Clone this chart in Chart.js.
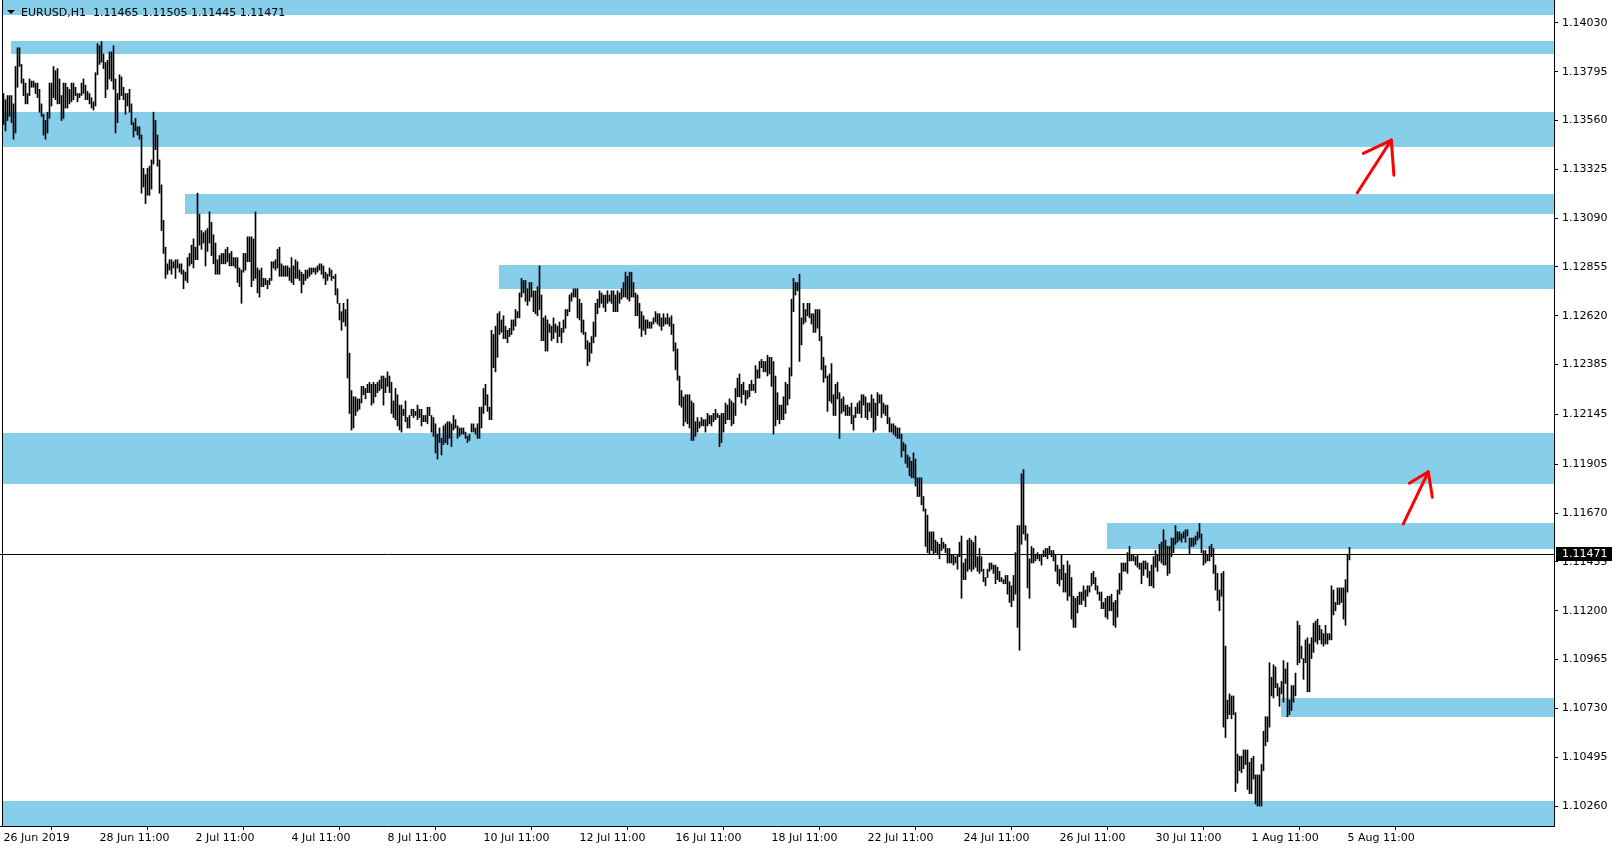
<!DOCTYPE html>
<html>
<head>
<meta charset="utf-8">
<title>EURUSD,H1</title>
<script src="https://cdn.jsdelivr.net/npm/chart.js@4.4.1/dist/chart.umd.min.js"></script>
<style>
  html, body { margin: 0; padding: 0; background: #fff; }
  #wrap { width: 1619px; height: 850px; }
</style>
</head>
<body>
<div id="wrap"><canvas id="chart" width="1619" height="850"></canvas></div>
<script>
// EURUSD H1, one entry per hourly bar, 26 Jun 2019 11:00 -> 5 Aug 2019 12:00
const highs = [
  1.1369,1.1366,1.1368,1.1368,1.1368,1.1364,1.1382,1.1391,1.1391,1.1383,1.1376,1.1374,1.1369,1.1376,1.1375,1.1375,1.1374,1.1374,1.1371,1.1364,1.1359,1.1356,1.1360,1.1374,
  1.1374,1.1382,1.1380,1.1381,1.1376,1.1368,1.1374,1.1374,1.1372,1.1371,1.1374,1.1374,1.1372,1.1369,1.1369,1.1374,1.1376,1.1373,1.1370,1.1369,1.1367,1.1365,1.1379,1.1393,
  1.1392,1.1394,1.1388,1.1384,1.1385,1.1389,1.1389,1.1392,1.1376,1.1369,1.1378,1.1377,1.1372,1.1369,1.1369,1.1371,1.1364,1.1355,1.1357,1.1353,1.1353,1.1349,1.1333,1.1330,
  1.1333,1.1334,1.1337,1.1360,1.1356,1.1349,1.1337,1.1325,1.1308,1.1295,1.1287,1.1289,1.1289,1.1288,1.1289,1.1289,1.1287,1.1287,1.1284,1.1283,1.1290,1.1292,1.1296,1.1299,
  1.1295,1.1321,1.1311,1.1303,1.1302,1.1303,1.1304,1.1312,1.1307,1.1301,1.1297,1.1289,1.1291,1.1292,1.1292,1.1294,1.1295,1.1292,1.1293,1.1290,1.1290,1.1290,1.1285,1.1284,
  1.1292,1.1292,1.1300,1.1300,1.1300,1.1299,1.1312,1.1285,1.1284,1.1285,1.1280,1.1280,1.1279,1.1280,1.1288,1.1288,1.1289,1.1294,1.1295,1.1287,1.1286,1.1286,1.1286,1.1285,
  1.1290,1.1286,1.1289,1.1288,1.1284,1.1283,1.1282,1.1284,1.1284,1.1285,1.1285,1.1285,1.1285,1.1286,1.1287,1.1287,1.1286,1.1283,1.1282,1.1285,1.1284,1.1281,1.1282,1.1275,
  1.1268,1.1264,1.1268,1.1265,1.1270,1.1244,1.1226,1.1223,1.1223,1.1222,1.1222,1.1228,1.1228,1.1227,1.1229,1.1230,1.1229,1.1230,1.1229,1.1230,1.1231,1.1233,1.1233,1.1232,
  1.1235,1.1233,1.1230,1.1221,1.1227,1.1224,1.1219,1.1219,1.1217,1.1221,1.1213,1.1214,1.1217,1.1217,1.1216,1.1219,1.1217,1.1217,1.1214,1.1214,1.1218,1.1218,1.1214,1.1213,
  1.1210,1.1205,1.1208,1.1203,1.1209,1.1210,1.1211,1.1211,1.1210,1.1214,1.1212,1.1209,1.1208,1.1208,1.1208,1.1206,1.1204,1.1205,1.1210,1.1210,1.1208,1.1210,1.1218,1.1218,
  1.1227,1.1229,1.1224,1.1218,1.1255,1.1253,1.1257,1.1263,1.1264,1.1260,1.1262,1.1257,1.1255,1.1256,1.1260,1.1260,1.1265,1.1264,1.1273,1.1280,1.1279,1.1279,1.1275,1.1278,
  1.1278,1.1274,1.1274,1.1276,1.1286,1.1272,1.1261,1.1262,1.1260,1.1258,1.1257,1.1261,1.1258,1.1257,1.1259,1.1256,1.1260,1.1265,1.1265,1.1272,1.1273,1.1275,1.1275,1.1275,
  1.1270,1.1268,1.1260,1.1254,1.1250,1.1249,1.1252,1.1259,1.1268,1.1270,1.1274,1.1273,1.1272,1.1272,1.1274,1.1272,1.1274,1.1274,1.1272,1.1274,1.1273,1.1275,1.1278,1.1283,
  1.1281,1.1283,1.1283,1.1278,1.1273,1.1272,1.1268,1.1264,1.1262,1.1260,1.1260,1.1259,1.1259,1.1261,1.1264,1.1263,1.1263,1.1261,1.1263,1.1261,1.1263,1.1261,1.1262,1.1258,
  1.1249,1.1246,1.1233,1.1226,1.1223,1.1224,1.1224,1.1224,1.1221,1.1220,1.1211,1.1213,1.1211,1.1213,1.1212,1.1212,1.1215,1.1214,1.1214,1.1215,1.1217,1.1215,1.1214,1.1215,
  1.1215,1.1220,1.1219,1.1222,1.1221,1.1220,1.1227,1.1232,1.1234,1.1229,1.1230,1.1226,1.1226,1.1229,1.1231,1.1229,1.1238,1.1236,1.1240,1.1241,1.1240,1.1240,1.1243,1.1242,
  1.1242,1.1240,1.1233,1.1225,1.1219,1.1219,1.1223,1.1230,1.1229,1.1237,1.1270,1.1280,1.1278,1.1278,1.1282,1.1261,1.1268,1.1265,1.1268,1.1268,1.1263,1.1263,1.1265,1.1265,
  1.1265,1.1252,1.1242,1.1238,1.1233,1.1234,1.1239,1.1224,1.1229,1.1230,1.1225,1.1222,1.1223,1.1219,1.1219,1.1218,1.1220,1.1214,1.1218,1.1220,1.1221,1.1224,1.1224,1.1223,
  1.1220,1.1220,1.1224,1.1222,1.1220,1.1225,1.1224,1.1224,1.1220,1.1219,1.1219,1.1213,1.1210,1.1210,1.1209,1.1208,1.1208,1.1205,1.1201,1.1200,1.1195,1.1194,1.1192,1.1196,
  1.1193,1.1184,1.1184,1.1184,1.1175,1.1169,1.1166,1.1158,1.1158,1.1158,1.1154,1.1153,1.1152,1.1155,1.1153,1.1152,1.1150,1.1150,1.1147,1.1147,1.1146,1.1147,1.1153,1.1156,
  1.1143,1.1145,1.1154,1.1155,1.1154,1.1153,1.1156,1.1146,1.1150,1.1146,1.1140,1.1136,1.1140,1.1143,1.1143,1.1142,1.1142,1.1141,1.1139,1.1136,1.1135,1.1137,1.1137,1.1134,
  1.1132,1.1137,1.1148,1.1161,1.1161,1.1186,1.1188,1.1161,1.1157,1.1145,1.1151,1.1150,1.1147,1.1148,1.1147,1.1147,1.1149,1.1150,1.1150,1.1151,1.1149,1.1149,1.1147,1.1142,
  1.1140,1.1147,1.1142,1.1138,1.1144,1.1142,1.1136,1.1127,1.1126,1.1127,1.1129,1.1129,1.1132,1.1130,1.1132,1.1132,1.1138,1.1139,1.1136,1.1132,1.1129,1.1129,1.1124,1.1126,
  1.1127,1.1127,1.1128,1.1124,1.1125,1.1130,1.1138,1.1143,1.1143,1.1143,1.1148,1.1151,1.1147,1.1147,1.1146,1.1147,1.1143,1.1143,1.1144,1.1144,1.1143,1.1139,1.1142,1.1146,
  1.1149,1.1147,1.1152,1.1153,1.1159,1.1154,1.1151,1.1151,1.1155,1.1155,1.1161,1.1158,1.1158,1.1157,1.1158,1.1159,1.1159,1.1155,1.1155,1.1155,1.1156,1.1158,1.1162,1.1157,
  1.1149,1.1149,1.1147,1.1151,1.1152,1.1150,1.1142,1.1138,1.1130,1.1138,1.1139,1.1103,1.1077,1.1080,1.1079,1.1079,1.1071,1.1051,1.1050,1.1050,1.1053,1.1053,1.1053,1.1047,
  1.1049,1.1050,1.1041,1.1041,1.1041,1.1046,1.1062,1.1069,1.1069,1.1095,1.1088,1.1094,1.1093,1.1085,1.1083,1.1086,1.1096,1.1092,1.1095,1.1077,1.1084,1.1084,1.1090,1.1115,
  1.1113,1.1103,1.1097,1.1106,1.1107,1.1104,1.1107,1.1114,1.1115,1.1116,1.1113,1.1111,1.1109,1.1113,1.1109,1.1109,1.1132,1.1130,1.1124,1.1131,1.1131,1.1131,1.1131,1.1135,
  1.1147,1.11505
];
const lows = [
  1.1354,1.1351,1.1356,1.1358,1.1355,1.1347,1.1350,1.1372,1.1382,1.1374,1.1368,1.1364,1.1364,1.1368,1.1372,1.1372,1.1369,1.1367,1.1360,1.1358,1.1349,1.1347,1.1350,1.1357,
  1.1363,1.1367,1.1366,1.1364,1.1364,1.1356,1.1357,1.1362,1.1362,1.1364,1.1365,1.1366,1.1368,1.1365,1.1367,1.1368,1.1369,1.1366,1.1366,1.1364,1.1362,1.1361,1.1363,1.1378,
  1.1383,1.1384,1.1381,1.1367,1.1371,1.1376,1.1375,1.1371,1.1350,1.1355,1.1366,1.1368,1.1366,1.1359,1.1363,1.1360,1.1354,1.1348,1.1351,1.1349,1.1347,1.1321,1.1324,1.1316,
  1.1320,1.1320,1.1323,1.1335,1.1342,1.1334,1.1321,1.1303,1.1292,1.1280,1.1282,1.1284,1.1282,1.1285,1.1280,1.1285,1.1283,1.1282,1.1275,1.1279,1.1278,1.1286,1.1287,1.1285,
  1.1289,1.1289,1.1296,1.1294,1.1297,1.1286,1.1293,1.1297,1.1291,1.1287,1.1282,1.1282,1.1282,1.1287,1.1287,1.1287,1.1288,1.1286,1.1286,1.1286,1.1285,1.1278,1.1276,1.1268,
  1.1283,1.1284,1.1288,1.1288,1.1276,1.1279,1.1280,1.1273,1.1271,1.1276,1.1276,1.1277,1.1275,1.1277,1.1279,1.1285,1.1284,1.1285,1.1281,1.1281,1.1281,1.1281,1.1281,1.1279,
  1.1278,1.1277,1.1280,1.1280,1.1279,1.1273,1.1277,1.1279,1.1280,1.1281,1.1282,1.1283,1.1282,1.1283,1.1284,1.1282,1.1280,1.1277,1.1279,1.1281,1.1279,1.1280,1.1272,1.1268,
  1.1260,1.1255,1.1259,1.1257,1.1232,1.1215,1.1207,1.1208,1.1214,1.1216,1.1217,1.1220,1.1224,1.1222,1.1225,1.1225,1.1219,1.1220,1.1223,1.1225,1.1226,1.1227,1.1219,1.1225,
  1.1228,1.1225,1.1215,1.1213,1.1212,1.1209,1.1207,1.1206,1.1214,1.1211,1.1208,1.1208,1.1214,1.1213,1.1214,1.1212,1.1213,1.1209,1.1211,1.1211,1.1210,1.1214,1.1206,1.1204,
  1.1196,1.1193,1.1201,1.1195,1.1200,1.1201,1.1200,1.1203,1.1199,1.1207,1.1208,1.1203,1.1204,1.1205,1.1205,1.1203,1.1201,1.1202,1.1206,1.1206,1.1205,1.1203,1.1203,1.1208,
  1.1215,1.1219,1.1216,1.1212,1.1212,1.1237,1.1235,1.1242,1.1253,1.1254,1.1251,1.1251,1.1249,1.1252,1.1253,1.1255,1.1257,1.1261,1.1261,1.1271,1.1273,1.1269,1.1267,1.1269,
  1.1271,1.1264,1.1263,1.1262,1.1265,1.1250,1.1250,1.1245,1.1245,1.1254,1.1250,1.1251,1.1254,1.1249,1.1252,1.1249,1.1254,1.1256,1.1262,1.1264,1.1269,1.1271,1.1271,1.1261,
  1.1260,1.1254,1.1253,1.1246,1.1238,1.1240,1.1244,1.1249,1.1252,1.1263,1.1266,1.1268,1.1266,1.1264,1.1268,1.1269,1.1268,1.1264,1.1264,1.1264,1.1268,1.1270,1.1271,1.1271,
  1.1270,1.1269,1.1271,1.1271,1.1262,1.1262,1.1256,1.1252,1.1255,1.1253,1.1256,1.1256,1.1256,1.1258,1.1259,1.1258,1.1257,1.1255,1.1257,1.1258,1.1258,1.1257,1.1253,1.1245,
  1.1236,1.1231,1.1219,1.1218,1.1209,1.1211,1.1210,1.1208,1.1202,1.1202,1.1204,1.1206,1.1208,1.1209,1.1209,1.1206,1.1209,1.1210,1.1209,1.1211,1.1212,1.1213,1.1199,1.1201,
  1.1206,1.1210,1.1212,1.1212,1.1209,1.1210,1.1214,1.1223,1.1223,1.1220,1.1224,1.1219,1.1222,1.1223,1.1226,1.1226,1.1225,1.1232,1.1232,1.1237,1.1235,1.1235,1.1233,1.1234,
  1.1228,1.1205,1.1209,1.1212,1.1210,1.1212,1.1212,1.1215,1.1219,1.1222,1.1233,1.1264,1.1272,1.1274,1.1240,1.1248,1.1258,1.1259,1.1262,1.1261,1.1258,1.1254,1.1254,1.1256,
  1.1250,1.1236,1.1230,1.1232,1.1216,1.1221,1.1220,1.1214,1.1214,1.1222,1.1203,1.1215,1.1216,1.1214,1.1214,1.1214,1.1210,1.1207,1.1213,1.1215,1.1215,1.1213,1.1219,1.1213,
  1.1212,1.1216,1.1213,1.1206,1.1207,1.1214,1.1220,1.1213,1.1215,1.1214,1.1210,1.1206,1.1206,1.1205,1.1204,1.1203,1.1203,1.1194,1.1197,1.1191,1.1189,1.1185,1.1184,1.1184,
  1.1180,1.1175,1.1175,1.1171,1.1168,1.1151,1.1148,1.1147,1.1149,1.1147,1.1148,1.1147,1.1145,1.1149,1.1150,1.1148,1.1143,1.1143,1.1143,1.1142,1.1143,1.1140,1.1146,1.1126,
  1.1135,1.1135,1.1139,1.1140,1.1139,1.1140,1.1141,1.1139,1.1138,1.1139,1.1134,1.1132,1.1136,1.1139,1.1140,1.1138,1.1133,1.1135,1.1134,1.1134,1.1133,1.1133,1.1128,1.1124,
  1.1122,1.1125,1.1128,1.1112,1.1101,1.1152,1.1157,1.1154,1.1131,1.1126,1.1143,1.1143,1.1144,1.1145,1.1144,1.1142,1.1146,1.1146,1.1145,1.1147,1.1146,1.1144,1.1139,1.1133,
  1.1132,1.1135,1.1129,1.1129,1.1125,1.1127,1.1116,1.1112,1.1112,1.1119,1.1123,1.1123,1.1125,1.1122,1.1127,1.1129,1.1132,1.1133,1.1130,1.1128,1.1125,1.1121,1.1121,1.1117,
  1.1116,1.1120,1.1120,1.1113,1.1112,1.1117,1.1128,1.1130,1.1139,1.1139,1.1138,1.1144,1.1144,1.1144,1.1142,1.1141,1.1140,1.1133,1.1137,1.1140,1.1136,1.1132,1.1132,1.1131,
  1.1141,1.1139,1.1144,1.1143,1.1142,1.1142,1.1137,1.1138,1.1146,1.1148,1.1152,1.1153,1.1154,1.1153,1.1155,1.1153,1.1156,1.1147,1.1151,1.1151,1.1152,1.1154,1.1155,1.1148,
  1.1142,1.1143,1.1144,1.1144,1.1146,1.1138,1.1130,1.1125,1.1120,1.1127,1.1064,1.1059,1.1068,1.1070,1.1068,1.1070,1.1033,1.1037,1.1043,1.1042,1.1044,1.1046,1.1034,1.1032,
  1.1032,1.1039,1.1027,1.1026,1.1026,1.1026,1.1043,1.1055,1.1057,1.1064,1.1079,1.1078,1.1083,1.1079,1.1074,1.1080,1.1076,1.1085,1.1069,1.1070,1.1072,1.1076,1.1079,1.1094,
  1.1095,1.1097,1.1087,1.1095,1.1081,1.1081,1.1097,1.1100,1.1105,1.1104,1.1106,1.1104,1.1103,1.1104,1.1104,1.1106,1.1106,1.1118,1.1120,1.1123,1.1123,1.1124,1.1116,1.1113,
  1.1129,1.11445
];

const symbolHeader = "EURUSD,H1  1.11465 1.11505 1.11445 1.11471";
const lastPrice = 1.11471;

// time axis: a label every 48 hourly bars
const xTickBars = [0, 48, 96, 144, 192, 240, 288, 336, 384, 432, 480, 528, 576, 624, 672];
const xTickLabels = ["26 Jun 2019", "28 Jun 11:00", "2 Jul 11:00", "4 Jul 11:00", "8 Jul 11:00",
  "10 Jul 11:00", "12 Jul 11:00", "16 Jul 11:00", "18 Jul 11:00", "22 Jul 11:00",
  "24 Jul 11:00", "26 Jul 11:00", "30 Jul 11:00", "1 Aug 11:00", "5 Aug 11:00"];
const yTickValues = [1.10260, 1.10495, 1.10730, 1.10965, 1.11200, 1.11435, 1.11670, 1.11905,
  1.12145, 1.12385, 1.12620, 1.12855, 1.13090, 1.13325, 1.13560, 1.13795, 1.14030];

// support / resistance bands (price range + first bar, null = from the left edge)
const zoneTops = [1.14160, 1.13942, 1.13601, 1.13206, 1.12864, 1.12056, 1.11623, 1.10780, 1.10285];
const zoneBottoms = [1.14068, 1.13880, 1.13432, 1.13110, 1.12749, 1.11810, 1.11497, 1.10689, 1.10100];
const zoneStartBars = [null, 4, null, 91, 248, null, 552, 639, null];

// the two hand drawn arrows, points as [bar, price]
const arrowTails = [[676.9, 1.13212], [699.9, 1.11618]];
const arrowTips = [[693.9, 1.13466], [712.4, 1.11869]];
const arrowBarbsLeft = [[679.9, 1.13402], [702.9, 1.11814]];
const arrowBarbsRight = [[695.2, 1.13297], [714.4, 1.11746]];

const barMin = -1.75, barMax = 775.25;
const priceMin = 1.10164, priceMax = 1.14140;

const FONT = "DejaVu Sans";

const zonesPlugin = {
  id: "zones",
  beforeDatasetsDraw(chart) {
    const { ctx, chartArea: a, scales: { x, y } } = chart;
    ctx.save();
    ctx.beginPath();
    ctx.rect(a.left, a.top, a.right - a.left, a.bottom - a.top);
    ctx.clip();
    ctx.fillStyle = "#87CEEB";
    zoneTops.forEach((top, i) => {
      const x0 = zoneStartBars[i] === null ? a.left + 2 : x.getPixelForValue(zoneStartBars[i]) - 0.5;
      const y0 = Math.round(y.getPixelForValue(top));
      const y1 = Math.round(y.getPixelForValue(zoneBottoms[i]));
      ctx.fillRect(x0, y0, a.right - x0, y1 - y0);
    });
    // left frame
    ctx.fillStyle = "#000";
    ctx.fillRect(a.left + 2, a.top, 1, a.bottom - a.top);
    ctx.restore();
  }
};

const overlayPlugin = {
  id: "overlay",
  afterDraw(chart) {
    const { ctx, chartArea: a, scales: { y } } = chart;
    ctx.save();
    ctx.fillStyle = "#000";
    ctx.beginPath();
    ctx.moveTo(7, 10);
    ctx.lineTo(15, 10);
    ctx.lineTo(11, 14);
    ctx.closePath();
    ctx.fill();
    ctx.font = "11px '" + FONT + "'";
    ctx.textBaseline = "middle";
    ctx.fillText(symbolHeader, 21, 13);

    // current price tag on the price axis
    const py = Math.round(y.getPixelForValue(lastPrice));
    ctx.fillRect(a.right + 2, py - 7, 56, 14);
    ctx.fillStyle = "#fff";
    ctx.fillText(lastPrice.toFixed(5), a.right + 8, py);
    ctx.restore();
  }
};

const bars = highs.map((h, i) => ({ x: i, y: [lows[i], h] }));

const arrowSets = [];
arrowTails.forEach((t, k) => {
  arrowSets.push({
    type: "line",
    data: [{ x: t[0], y: t[1] }, { x: arrowTips[k][0], y: arrowTips[k][1] }],
    borderColor: "#ff0000", borderWidth: 3, pointRadius: 0,
    borderCapStyle: "round", order: 0
  });
  arrowSets.push({
    type: "line",
    data: [
      { x: arrowBarbsLeft[k][0], y: arrowBarbsLeft[k][1] },
      { x: arrowTips[k][0], y: arrowTips[k][1] },
      { x: arrowBarbsRight[k][0], y: arrowBarbsRight[k][1] }
    ],
    borderColor: "#ff0000", borderWidth: 3, pointRadius: 0,
    borderCapStyle: "round", borderJoinStyle: "round", order: 0
  });
});

new Chart(document.getElementById("chart"), {
  type: "bar",
  data: {
    datasets: [
      {
        type: "bar",
        data: bars,
        backgroundColor: "#000",
        borderWidth: 0,
        barThickness: 1,
        order: 2
      },
      {
        type: "line",
        data: [{ x: barMin, y: lastPrice }, { x: barMax, y: lastPrice }],
        borderColor: "#000",
        borderWidth: 1,
        pointRadius: 0,
        order: 1
      },
      ...arrowSets
    ]
  },
  options: {
    responsive: false,
    animation: false,
    devicePixelRatio: 1,
    events: [],
    layout: { padding: 0 },
    plugins: {
      legend: { display: false },
      tooltip: { enabled: false }
    },
    scales: {
      x: {
        type: "linear",
        min: barMin,
        max: barMax,
        offset: false,
        grid: { drawOnChartArea: false, drawTicks: true, tickLength: 4, color: "#000" },
        border: { display: true, color: "#000", width: 1 },
        ticks: {
          autoSkip: false,
          maxRotation: 0,
          minRotation: 0,
          align: "start",
          padding: 2,
          color: "#000",
          font: { family: FONT, size: 11 },
          callback: (v, i) => xTickLabels[i]
        },
        afterBuildTicks: (s) => { s.ticks = xTickBars.map(v => ({ value: v })); },
        afterFit: (s) => { s.height = 24; s.paddingLeft = 0; s.paddingRight = 0; }
      },
      y: {
        type: "linear",
        position: "right",
        min: priceMin,
        max: priceMax,
        grid: { drawOnChartArea: false, drawTicks: true, tickLength: 4, color: "#000" },
        border: { display: true, color: "#000", width: 1 },
        ticks: {
          padding: 4,
          color: "#000",
          font: { family: FONT, size: 11 },
          callback: (v) => Number(v).toFixed(5)
        },
        afterBuildTicks: (s) => { s.ticks = yTickValues.map(v => ({ value: v })); },
        afterFit: (s) => { s.width = 65; s.paddingTop = 0; s.paddingBottom = 0; }
      }
    }
  },
  plugins: [zonesPlugin, overlayPlugin]
});
</script>
</body>
</html>
